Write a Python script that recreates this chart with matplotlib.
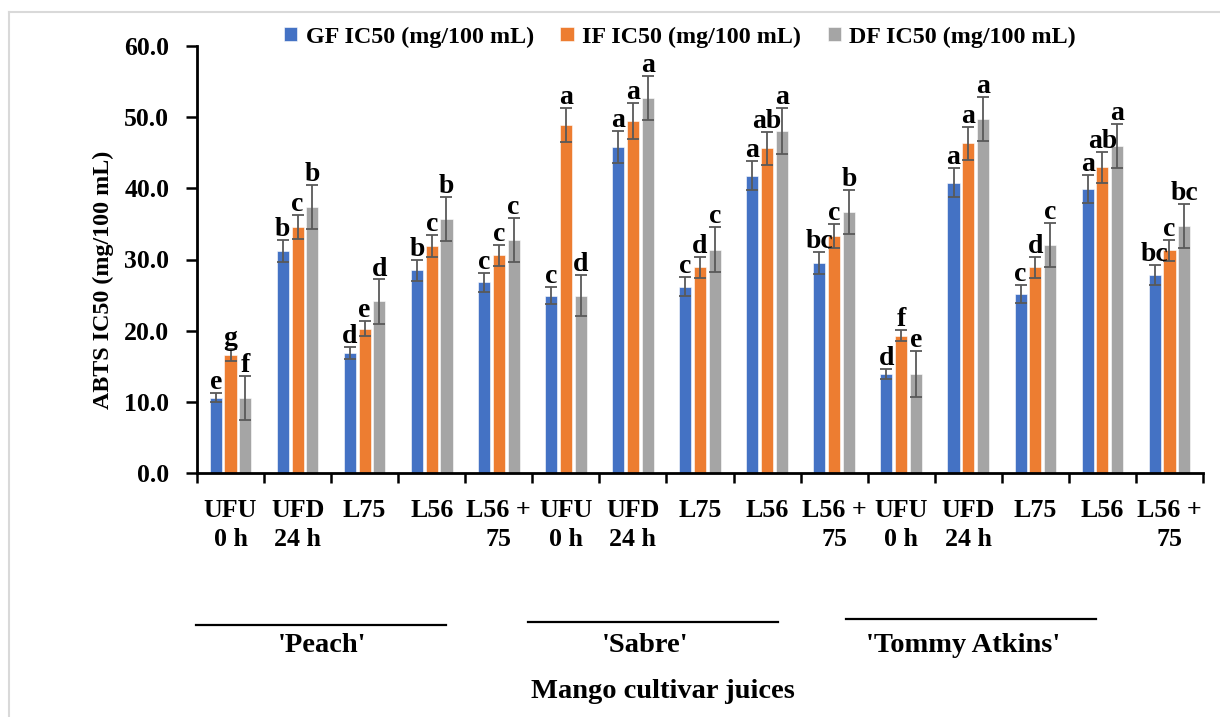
"""ABTS IC50 of mango cultivar juices: grouped bars with error bars and letters."""

import numpy as np
import matplotlib

matplotlib.use("Agg")
import matplotlib.pyplot as plt
from matplotlib.lines import Line2D

treatments = ["UFU\n0 h", "UFD\n24 h", "L75", "L56", "L56 +\n75"]
cultivars = ["'Peach'", "'Sabre'", "'Tommy Atkins'"]
tick_labels = treatments * len(cultivars)

series_names = ["GF IC50 (mg/100 mL)", "IF IC50 (mg/100 mL)", "DF IC50 (mg/100 mL)"]

gf_values = [10.6, 31.2, 16.9, 28.5, 26.8, 24.9, 45.8, 26.2, 41.8, 29.5, 13.9, 40.8, 25.2, 39.9, 27.8]
gf_errors = [0.6, 1.5, 0.85, 1.5, 1.35, 1.2, 2.3, 1.3, 2.1, 1.5, 0.7, 2.0, 1.25, 2.0, 1.4]
gf_letters = ["e", "b", "d", "b", "c", "c", "a", "c", "a", "bc", "d", "a", "c", "a", "bc"]

if_values = [16.6, 34.6, 20.3, 31.9, 30.6, 48.9, 49.5, 28.9, 45.6, 33.3, 19.3, 46.3, 28.9, 42.95, 31.3]
if_errors = [0.85, 1.7, 1.0, 1.6, 1.5, 2.4, 2.5, 1.5, 2.3, 1.7, 0.8, 2.3, 1.5, 2.2, 1.5]
if_letters = ["g", "c", "e", "c", "c", "a", "a", "d", "ab", "c", "f", "a", "d", "ab", "c"]

df_values = [10.6, 37.4, 24.1, 35.7, 32.7, 24.9, 52.7, 31.4, 48.05, 36.7, 13.9, 49.7, 32.0, 46.0, 34.7]
df_errors = [3.1, 3.1, 3.1, 3.1, 3.1, 2.9, 3.1, 3.2, 3.2, 3.1, 3.2, 3.1, 3.1, 3.1, 3.1]
df_letters = ["f", "b", "d", "b", "c", "d", "a", "c", "a", "b", "e", "a", "c", "a", "bc"]

colors = ["#4472C4", "#ED7D31", "#A5A5A5"]
FONT = "Liberation Serif"

plt.rcParams["font.family"] = [FONT, "DejaVu Serif"]
plt.rcParams["font.weight"] = "bold"

fig = plt.figure(figsize=(12.2, 7.17), dpi=100)
ax = fig.add_axes([197 / 1220, 1 - 473 / 717, (1203 - 197) / 1220, (473 - 46) / 717])

# light grey frame of the original figure box
fig.add_artist(Line2D([9 / 1220, 9 / 1220], [0, 1 - 12 / 717], color="#d9d9d9", linewidth=1.5))
fig.add_artist(Line2D([9 / 1220, 1], [1 - 12 / 717, 1 - 12 / 717], color="#d9d9d9", linewidth=1.5))

x = np.arange(len(tick_labels))
width = 0.18
offsets = [-0.22, 0.0, 0.22]
all_series = [
    (gf_values, gf_errors, gf_letters),
    (if_values, if_errors, if_letters),
    (df_values, df_errors, df_letters),
]

for (values, errors, letters), offset, color, name in zip(all_series, offsets, colors, series_names):
    pos = x + offset
    ax.bar(pos, values, width, color=color, edgecolor="white", linewidth=0.4, label=name, zorder=2)
    ax.errorbar(pos, values, yerr=errors, fmt="none", ecolor="#595959", elinewidth=1.3,
                capsize=4.3, capthick=1.3, zorder=3)
    for xp, v, e, letter in zip(pos, values, errors, letters):
        ax.annotate(letter, (xp, v + e), xytext=(0, -1.5), textcoords="offset points",
                    ha="center", va="bottom", fontsize=20, fontweight="bold", zorder=4)

ax.set_xlim(-0.5, len(tick_labels) - 0.5)
ax.set_ylim(0, 60)
ax.set_yticks(np.arange(0, 61, 10))
ax.set_yticklabels([f"{v:.1f}" for v in np.arange(0, 61, 10)])
ax.set_xticks(np.arange(-0.5, len(tick_labels)), labels=[])
ax.set_xticks(x, labels=tick_labels, minor=True)
ax.tick_params(axis="x", which="major", direction="out", length=7, width=1.8)
ax.tick_params(axis="x", which="minor", length=0, pad=19, labelsize=18.7)
ax.tick_params(axis="y", direction="out", length=8, width=1.8, pad=12, labelsize=18.5)
for label in ax.get_xticklabels(minor=True):
    label.set_verticalalignment("top")
    label.set_linespacing(1.3)

for side in ["top", "right"]:
    ax.spines[side].set_visible(False)
for side in ["left", "bottom"]:
    ax.spines[side].set_linewidth(2.0)

fig.text(103 / 1220, 1 - 280 / 717, "ABTS IC50 (mg/100 mL)", rotation=90, ha="center", va="center",
         fontsize=17.3, fontweight="bold")

# cultivar group lines and names
group_lines = [(196, 446, 625), (528, 778, 622), (846, 1096, 619)]
name_centers = [322, 645, 963]
for (x0, x1, yl), xc, name in zip(group_lines, name_centers, cultivars):
    fig.add_artist(Line2D([x0 / 1220, x1 / 1220], [1 - yl / 717, 1 - yl / 717], color="black", linewidth=1.6))
    fig.text(xc / 1220, 1 - 646 / 717, name, ha="center", va="center", fontsize=20.5, fontweight="bold")

fig.text(663 / 1220, 1 - 691 / 717, "Mango cultivar juices", ha="center", va="center", fontsize=20.5,
         fontweight="bold")

fig.legend(loc="center", bbox_to_anchor=(680 / 1220, 1 - 37 / 717), ncol=3, frameon=False,
           fontsize=17.3, handlelength=0.56, handleheight=0.52, handletextpad=0.35,
           columnspacing=1.1, borderpad=0.1)

fig.savefig("out.png", dpi=100)
